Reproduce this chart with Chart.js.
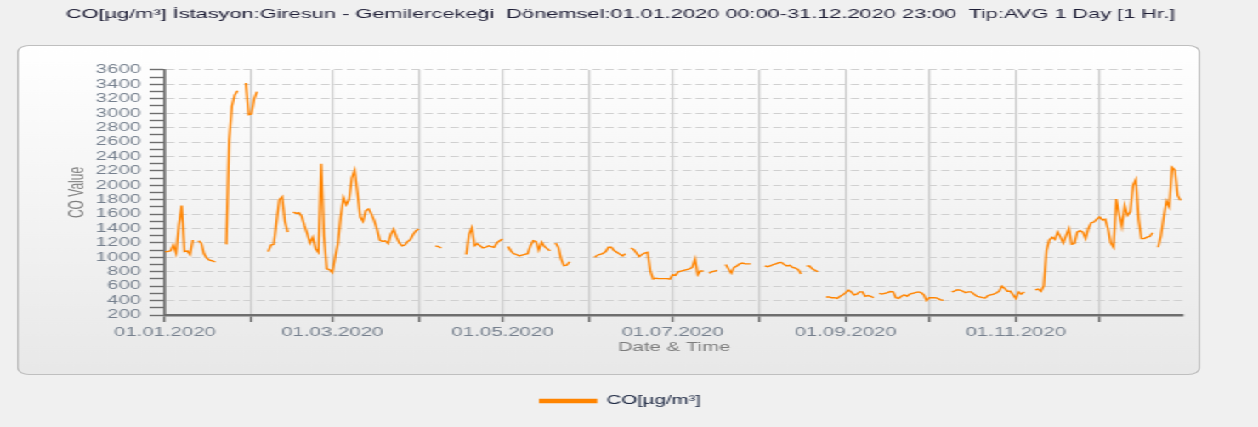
<!DOCTYPE html>
<html>
<head>
<meta charset="utf-8">
<script src="https://cdn.jsdelivr.net/npm/chart.js@4.4.1/dist/chart.umd.min.js"></script>
<style>
  html, body { margin: 0; padding: 0; background: #f0f0f0; overflow: hidden; }
  /* the reference is a narrow chart stretched sideways, so draw narrow and stretch */
  #stage { position: absolute; left: 0; top: 0; width: 740px; height: 427px; transform: scaleX(1.7); transform-origin: 0 0; }
  #panel { position: absolute; left: 10px; top: 45px; width: 696px; height: 330px; box-sizing: border-box;
           border: 1px solid #bfbfbf; border-radius: 7px; background: linear-gradient(#ffffff, #e8e8e8); }
  #chart { position: absolute; left: 0; top: 0; }
</style>
</head>
<body>
<div id="stage">
  <div id="panel"></div>
  <canvas id="chart" width="740" height="427"></canvas>
</div>
<script>
const titleText = 'CO[µg/m³] İstasyon:Giresun - Gemilercekeği  Dönemsel:01.01.2020 00:00-31.12.2020 23:00  Tip:AVG 1 Day [1 Hr.]';
const seriesLabel = 'CO[µg/m³]';

// day index of each month start (2020, leap year)
const monthStarts = [0, 31, 60, 91, 121, 152, 182, 213, 244, 274, 305, 335];
const monthTickLabels = ['01.01.2020', '', '01.03.2020', '', '01.05.2020', '', '01.07.2020', '', '01.09.2020', '', '01.11.2020', ''];

// daily averages, null = no data
const coJan = [1080, 1080, 1090, 1170, 1060, 1450, 1720, 1080, 1090, 1040, 1240, null, 1230, 1200, 1050, 990,
  960, 950, 935, null, null, null, 1180, 2620, 3100, 3250, 3310, null, null, 3420, 2980];
const coFeb = [2990, 3200, 3300, null, null, null, 1080, 1170, 1180, 1490, 1800, 1840, 1500, 1350, null,
  1630, 1610, 1620, 1570, 1440, 1330, 1200, 1280, 1120, 1070, 2300, 1300, 840, 830];
const coMar = [790, 1000, 1190, 1560, 1830, 1730, 1800, 2100, 2210, 1900, 1560, 1500, 1650, 1670, 1600, 1510,
  1390, 1240, 1220, 1230, 1190, 1320, 1390, 1280, 1200, 1160, 1170, 1220, 1250, 1320, 1370];
const coApr = [1395, null, null, null, null, null, 1160, 1150, 1130, null, null, null, null, null, null, null,
  null, 1040, 1320, 1410, 1160, 1190, 1160, 1130, 1140, 1160, 1150, 1140, 1200, 1230];
const coMay = [1255, null, 1150, 1090, 1050, 1040, 1020, 1030, 1040, 1050, 1160, 1230, 1220, 1100, 1210, 1150,
  1120, 1090, null, 1200, 1140, 980, 885, 890, 940, null, null, null, null, null, null];
const coJun = [null, null, 1000, 1030, 1040, 1055, 1080, 1140, 1140, 1095, 1070, 1045, 1020, 1050, null, 1130,
  1110, 1060, 1010, 1040, 1060, 1070, 810, 700, 710, 705, 705, 705, 705, 697];
const coJul = [760, 750, 800, 810, 820, 830, 840, 860, 980, 760, 810, 810, null, 780, 800, 810,
  820, null, null, 900, 840, 780, 860, 880, 910, 920, 910, 910, 910, null, null];
const coAug = [null, null, 880, 870, 880, 900, 910, 925, 930, 900, 880, 890, 860, 850, 830, 770,
  null, 880, 880, 840, 820, 800, null, null, 450, 450, 440, 440, 430, 460, 480];
const coSep = [510, 545, 520, 480, 490, 520, 520, 460, 470, 460, 440, null, 500, 490, 500, 510,
  525, 520, 440, 430, 460, 480, 460, 490, 500, 510, 520, 510, 480, 400];
const coOct = [440, 440, 440, 430, 410, 405, null, null, 520, 530, 550, 545, 530, 510, 520, 520,
  490, 460, 450, 440, 435, 470, 480, 490, 505, 530, 600, 570, 530, 530, 480];
const coNov = [430, 520, 490, 520, null, null, null, 550, 560, 530, 605, 1100, 1240, 1280, 1250, 1350,
  1280, 1200, 1300, 1400, 1180, 1190, 1350, 1370, 1350, 1260, 1400, 1480, 1490, 1530];
const coDec = [1560, 1520, 1530, 1400, 1200, 1140, 1810, 1600, 1430, 1720, 1580, 1630, 2000, 2080, 1530, 1260,
  1260, 1280, 1290, 1340, null, 1140, 1300, 1560, 1780, 1700, 2250, 2210, 1860, 1790, null];

const coValues = [].concat(coJan, coFeb, coMar, coApr, coMay, coJun, coJul, coAug, coSep, coOct, coNov, coDec);

Chart.defaults.font.family = "'Liberation Sans', Arial, sans-serif";
Chart.defaults.font.size = 12;

const tickColor = '#76808e';
// labels and dashed grid every 200, small extra ticks in between
const isMajor = v => v % 200 === 0;

new Chart(document.getElementById('chart').getContext('2d'), {
  type: 'line',
  data: {
    datasets: [{
      label: seriesLabel,
      data: coValues.map((v, i) => ({ x: i, y: v })),
      borderColor: '#ff8400',
      backgroundColor: '#ff8400',
      borderWidth: 1.35,
      pointRadius: 0,
      tension: 0,
      spanGaps: false,
      fill: false
    }]
  },
  options: {
    responsive: false,
    animation: false,
    devicePixelRatio: 1,
    layout: { padding: { left: 34, right: 44, top: 0, bottom: 10 } },
    plugins: {
      title: {
        display: true,
        text: titleText,
        color: '#1e1e36',
        font: { size: 12.8, weight: 'normal' },
        padding: { top: 6.5, bottom: 48.1 }
      },
      legend: {
        position: 'bottom',
        labels: { boxWidth: 33, boxHeight: 3, padding: 10, color: '#1f2a44', font: { size: 12 } }
      },
      tooltip: { enabled: false }
    },
    scales: {
      x: {
        type: 'linear',
        min: 0,
        max: 365,
        afterBuildTicks: s => { s.ticks = monthStarts.map(v => ({ value: v })); },
        afterFit: s => { s.height = 70; },
        ticks: {
          autoSkip: false,
          maxRotation: 0,
          padding: 3,
          color: tickColor,
          callback: (v, i) => monthTickLabels[i]
        },
        grid: { color: '#cdcdcd', lineWidth: 1.2, tickColor: '#6a6a6a', tickLength: 7, tickWidth: 1.3 },
        border: { color: '#6e6e6e', width: 2.5 },
        title: { display: true, text: 'Date & Time', color: '#7c7c7c', padding: { top: 0, bottom: 29.8 } }
      },
      y: {
        min: 200,
        max: 3600,
        afterFit: s => { s.width = 63; },
        ticks: { stepSize: 100, autoSkip: false, padding: 5, color: tickColor, callback: v => isMajor(v) ? String(v) : '' },
        grid: {
          color: c => isMajor(c.tick.value) ? '#d0d0d0' : 'rgba(0,0,0,0)',
          lineWidth: 1,
          tickColor: '#6e6e6e',
          tickLength: 9,
          tickWidth: 1.4,
          tickBorderDash: []
        },
        border: { color: '#6e6e6e', width: 1.6, dash: [5, 2.6] },
        title: { display: true, text: 'CO Value', color: '#7c7c7c', padding: { top: 4, bottom: 4 } }
      }
    }
  }
});
</script>
</body>
</html>
